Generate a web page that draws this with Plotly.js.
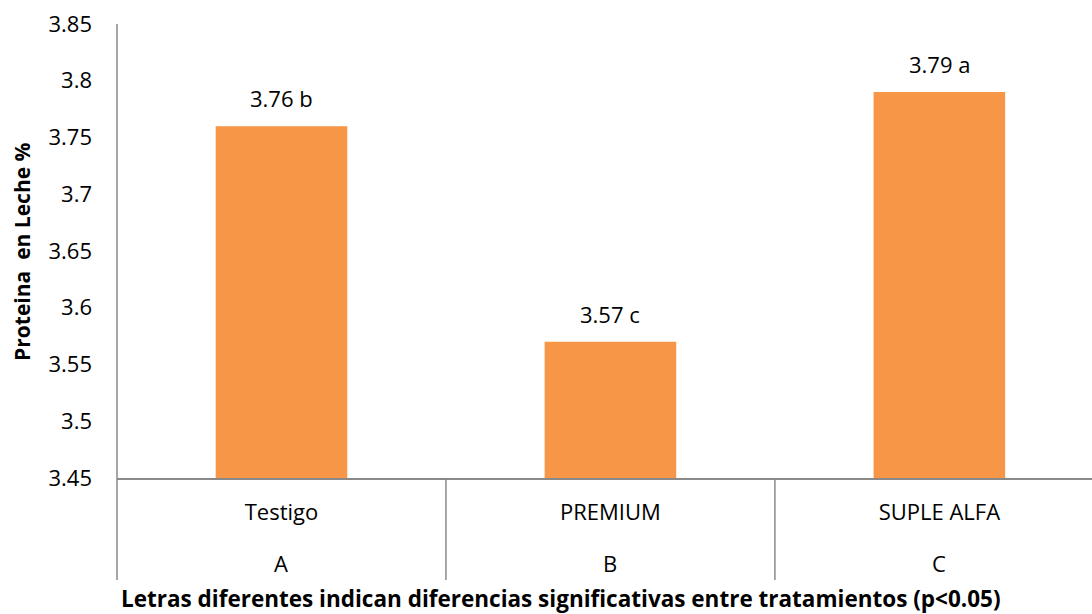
<!DOCTYPE html>
<html>
<head>
<meta charset="utf-8">
<script src="https://cdn.plot.ly/plotly-3.0.1.min.js"></script>
<style>html,body{margin:0;padding:0;background:#fff;}#chart{width:1092px;height:614px;}</style>
</head>
<body>
<div id="chart"></div>
<script>
const categories = ["Testigo", "PREMIUM", "SUPLE ALFA"];
const groups = ["A", "B", "C"];
const values = [3.76, 3.57, 3.79];
const letters = ["b", "c", "a"];
const yTicks = [3.45, 3.5, 3.55, 3.6, 3.65, 3.7, 3.75, 3.8, 3.85];
const yTitle = "Proteina  en Leche %";
const xTitle = "Letras diferentes indican diferencias significativas entre tratamientos (p<0.05)";

const FONT = "'Open Sans', sans-serif";
const AXIS = "#898989";
const idx = categories.map((c, i) => i);

const trace = {
  type: "bar",
  x: idx,
  y: values,
  width: 0.4,
  marker: {color: "#F79646"},
  hoverinfo: "skip"
};

const annotations = [];
values.forEach((v, i) => {
  annotations.push({
    x: i, y: v, xref: "x", yref: "y",
    text: v.toFixed(2) + " " + letters[i],
    showarrow: false, yanchor: "bottom", yshift: 11,
    font: {family: FONT, size: 22, color: "#000"}
  });
});
groups.forEach((g, i) => {
  annotations.push({
    x: i, y: -0.187, xref: "x", yref: "paper",
    text: g, showarrow: false, yanchor: "middle",
    font: {family: FONT, size: 22, color: "#000"}
  });
});
annotations.push({
  x: -0.097, y: 0.499, xref: "paper", yref: "paper",
  text: "<b>" + yTitle + "</b>", textangle: -90, showarrow: false,
  xanchor: "center", yanchor: "middle",
  font: {family: FONT, size: 21, color: "#000"}
});
annotations.push({
  x: 0.455, y: -0.2665, xref: "paper", yref: "paper",
  text: "<b>" + xTitle + "</b>", showarrow: false,
  xanchor: "center", yanchor: "middle",
  font: {family: FONT, size: 22.5, color: "#000"}
});

const shapes = [];
[0.5, 1.5].forEach(p => shapes.push({
  type: "line", xref: "x", yref: "paper", x0: p, x1: p, y0: 0, y1: -0.2247,
  line: {color: AXIS, width: 1.5}
}));
shapes.push({
  type: "line", xref: "paper", yref: "paper", x0: 0, x1: 0, y0: -0.2247, y1: 1,
  line: {color: AXIS, width: 1.5}
});

const layout = {
  width: 1092, height: 614,
  margin: {l: 117, r: 0, t: 24, b: 136},
  paper_bgcolor: "#fff", plot_bgcolor: "#fff",
  showlegend: false,
  font: {family: FONT, size: 18, color: "#000"},
  xaxis: {
    range: [-0.5, 2.464],
    tickmode: "array", tickvals: idx, ticktext: categories,
    showgrid: false, zeroline: false,
    showline: true, linecolor: AXIS, linewidth: 1.5,
    ticks: "", ticklabelstandoff: 14,
    tickfont: {family: FONT, size: 22, color: "#000"}
  },
  yaxis: {
    range: [3.45, 3.85],
    tickmode: "array",
    tickvals: yTicks,
    ticktext: yTicks.map(t => String(t)),
    showgrid: false, zeroline: false, showline: false,
    ticks: "", ticklabelstandoff: 24,
    tickfont: {family: FONT, size: 22, color: "#000"}
  },
  annotations: annotations,
  shapes: shapes
};
Plotly.newPlot("chart", [trace], layout, {displayModeBar: false, staticPlot: true});
</script>
</body>
</html>
